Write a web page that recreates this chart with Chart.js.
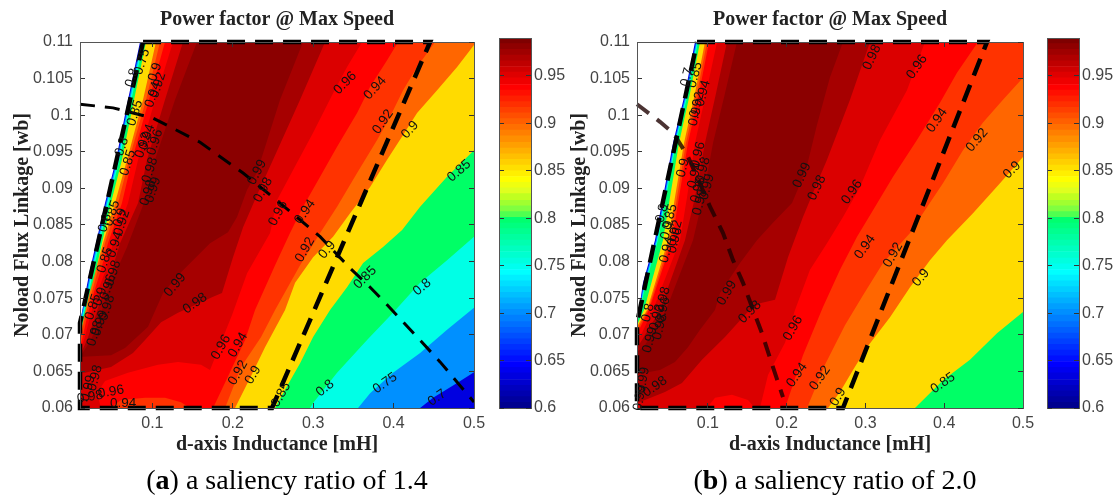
<!DOCTYPE html>
<html>
<head>
<meta charset="utf-8">
<title>Power factor @ Max Speed</title>
<script src="https://cdn.jsdelivr.net/npm/chart.js@4"></script>
<style>
body { margin: 0; background: #fff; width: 1115px; height: 495px; overflow: hidden; position: relative; }
canvas { position: absolute; top: 0; }
.caption { position: absolute; top: 464px; font: 28px "Liberation Serif", serif; color: #000; text-align: center; width: 400px; }
</style>
</head>
<body>
<canvas id="plotA" width="490" height="495" style="left:0"></canvas>
<canvas id="barA" width="80" height="495" style="left:490px"></canvas>
<canvas id="plotB" width="480" height="495" style="left:560px"></canvas>
<canvas id="barB" width="77" height="495" style="left:1038px"></canvas>
<div class="caption" style="left:87px">(<b>a</b>) a saliency ratio of 1.4</div>
<div class="caption" style="left:635px">(<b>b</b>) a saliency ratio of 2.0</div>
<script>
// tick labels
const xTicks = [0.1, 0.2, 0.3, 0.4, 0.5];
const yTicks = [0.06, 0.065, 0.07, 0.075, 0.08, 0.085, 0.09, 0.095, 0.1, 0.105, 0.11];
const barTicks = [0.6, 0.65, 0.7, 0.75, 0.8, 0.85, 0.9, 0.95];

// contour fill colours, from the lowest band to the highest
const bandColors = ['#0000e0', '#0090ff', '#00ffe6', '#00ff66', '#ffdb00', '#ff6600', '#ff3300', '#ff0000', '#db0000', '#a60000', '#8b0000'];

// colorbar steps
const barLevels = [0.600, 0.606, 0.612, 0.618, 0.624, 0.630, 0.637, 0.643, 0.649, 0.655, 0.661, 0.667, 0.673, 0.679, 0.685, 0.691, 0.698, 0.704, 0.710, 0.716, 0.722, 0.728, 0.734, 0.740, 0.746, 0.752, 0.758, 0.765, 0.771, 0.777, 0.783, 0.789, 0.795, 0.801, 0.807, 0.813, 0.819, 0.826, 0.832, 0.838, 0.844, 0.850, 0.856, 0.862, 0.868, 0.874, 0.880, 0.887, 0.893, 0.899, 0.905, 0.911, 0.917, 0.923, 0.929, 0.935, 0.941, 0.948, 0.954, 0.960, 0.966, 0.972, 0.978, 0.984, 0.990];
const barColors = ['#00008f', '#00009f', '#0000af', '#0000bf', '#0000cf', '#0000df', '#0000ef', '#0000ff', '#000fff', '#001fff', '#002fff', '#003fff', '#004fff', '#005fff', '#006fff', '#007fff', '#008fff', '#009fff', '#00afff', '#00bfff', '#00cfff', '#00dfff', '#00efff', '#00ffff', '#00ffef', '#00ffdf', '#00ffcf', '#00ffbf', '#00ffaf', '#00ff9f', '#00ff8f', '#00ff7f', '#00ff6f', '#50ff50', '#80ff40', '#a0ff30', '#c0ff20', '#dfff1f', '#efff0f', '#ffff00', '#ffef00', '#ffdf00', '#ffcf00', '#ffbf00', '#ffaf00', '#ff9f00', '#ff8f00', '#ff7f00', '#ff6f00', '#ff5f00', '#ff4f00', '#ff3f00', '#ff2f00', '#ff1f00', '#ff0f00', '#ff0000', '#ef0000', '#df0000', '#cf0000', '#bf0000', '#af0000', '#9f0000', '#8f0000', '#7f0000'];

// panel a: left edge of each level, top to bottom
const aLeft60 = [[.0846, .11], [.0697, .1021], [.0548, .0939], [.0411, .0880], [.0299, .0825], [.0224, .0789], [.0162, .0754], [.01, .0716]];
const aLeft70 = [[.0858, .11], [.0709, .1021], [.0560, .0939], [.0423, .0880], [.0311, .0825], [.0236, .0789], [.0174, .0754], [.01, .0718]];
const aLeft75 = [[.0871, .11], [.0722, .1021], [.0573, .0939], [.0436, .0880], [.0324, .0825], [.0249, .0789], [.0187, .0754], [.01, .0712]];
const aLeft80 = [[.0889, .11], [.0740, .1021], [.0591, .0939], [.0454, .0880], [.0342, .0825], [.0267, .0789], [.0205, .0754], [.01, .0708]];
const aLeft85 = [[.0921, .11], [.0772, .1021], [.0622, .0939], [.0485, .0880], [.0373, .0825], [.0299, .0789], [.0236, .0754], [.0168, .0724], [.01, .07]];
const aLeft90 = [[.1045, .11], [.0884, .1021], [.0685, .0939], [.0535, .0880], [.0386, .0825], [.0299, .0789], [.0212, .0754], [.0150, .0724], [.01, .07]];
const aLeft92 = [[.1095, .11], [.0921, .1021], [.0710, .0939], [.0573, .0880], [.0411, .0825], [.0324, .0789], [.0237, .0754], [.0162, .0724], [.01, .0693]];
const aLeft94 = [[.1157, .11], [.0958, .1021], [.0747, .0939], [.0622, .0880], [.0448, .0825], [.0361, .0789], [.0262, .0754], [.0187, .0724], [.0125, .0693], [.01, .0683]];
const aLeft96 = [[.1257, .11], [.1033, .1021], [.0822, .0939], [.0697, .0880], [.0511, .0825], [.0423, .0789], [.0299, .0754], [.0224, .0724], [.0150, .0693], [.01, .0679]];
const aLeft98 = [[.1381, .11], [.1157, .1021], [.0933, .0939], [.0822, .0880], [.0598, .0825], [.0498, .0789], [.0374, .0754], [.0287, .0724], [.0187, .0693], [.01, .0672]];
const aLeft99 = [[.1555, .11], [.1282, .1021], [.1033, .0939], [.0884, .0877], [.0685, .0820], [.0560, .0789], [.0436, .0757], [.0349, .0724], [.0237, .0693], [.0137, .0676], [.01, .0670]];

// panel a: right edge of each level, top to bottom
const aRight60 = [[.5, .11], [.5, .06], [.01, .06]];
const aRight70 = [[.5, .11], [.5, .0649], [.4790, .0634], [.4491, .0614], [.4330, .06], [.01, .06]];
const aRight75 = [[.5, .11], [.5, .0737], [.4665, .0707], [.4330, .0675], [.3993, .0648], [.3708, .0620], [.3558, .06], [.01, .06]];
const aRight80 = [[.5, .11], [.5, .0834], [.4665, .0802], [.4330, .0771], [.3993, .0730], [.3670, .0693], [.3297, .0648], [.2999, .0607], [.2961, .06], [.01, .06]];
const aRight85 = [[.5, .11], [.5, .0952], [.4665, .0916], [.4330, .0875], [.4106, .0843], [.3869, .0820], [.3621, .0798], [.3421, .0765], [.3210, .0734], [.2999, .0697], [.2837, .0661], [.2650, .0625], [.2526, .06], [.01, .06]];
const aRight90 = [[.5, .11], [.5, .1096], [.4790, .1066], [.4541, .1034], [.4292, .1003], [.4118, .0973], [.3919, .0939], [.3708, .0902], [.3459, .0866], [.3247, .0834], [.2999, .0806], [.2775, .0771], [.2650, .0734], [.2401, .0683], [.2215, .0641], [.2028, .06], [.01, .06]];
const aRight92 = [[.4516, .11], [.4292, .1066], [.4118, .1034], [.3956, .0998], [.3795, .0966], [.3546, .0921], [.3297, .0875], [.3086, .0839], [.2837, .0795], [.2526, .0734], [.2352, .0697], [.2103, .0656], [.1904, .06], [.01, .06]];
const aRight94 = [[.4056, .11], [.3919, .1075], [.3708, .1039], [.3546, .1003], [.3297, .0957], [.3086, .0916], [.2874, .0875], [.2712, .0839], [.2526, .0795], [.2277, .0734], [.2153, .0693], [.1978, .0652], [.1755, .06], [.1468, .06], [.1356, .0608], [.1157, .0614], [.0909, .0614], [.0610, .0611], [.0473, .06], [.01, .06]];
const aRight96 = [[.3608, .11], [.3421, .1066], [.3247, .1030], [.2999, .0976], [.2750, .0925], [.2551, .0884], [.2464, .0839], [.2178, .0784], [.1991, .0727], [.1866, .0693], [.1717, .0652], [.1605, .0659], [.1319, .0663], [.1070, .0659], [.0697, .0648], [.0411, .0637], [.0311, .0620], [.0361, .06], [.01, .06]];
const aRight98 = [[.3148, .11], [.2837, .1021], [.2501, .0939], [.2314, .0894], [.2128, .0847], [.2003, .0806], [.1866, .0757], [.1755, .0752], [.1319, .0730], [.1108, .0717], [.0909, .0693], [.0759, .0675], [.0486, .0656], [.0162, .0648], [.01, .0648]];
const aRight99 = [[.2874, .11], [.2588, .1021], [.2302, .0922], [.2178, .0898], [.2053, .0861], [.1941, .0840], [.1717, .0825], [.1506, .0802], [.1344, .0784], [.1133, .0757], [.0946, .0711], [.0660, .0682], [.0486, .0672], [.0137, .0670], [.01, .0670]];

// panel b: left edge of each level, top to bottom
const bLeft60 = [[.0836, .11], [.0709, .1030], [.0557, .0962], [.0430, .0888], [.0328, .0829], [.0176, .0771], [.01, .0716]];
const bLeft70 = [[.0849, .11], [.0722, .1030], [.0570, .0962], [.0443, .0888], [.0341, .0829], [.0189, .0771], [.01, .0718]];
const bLeft75 = [[.0861, .11], [.0734, .1030], [.0582, .0962], [.0455, .0888], [.0353, .0829], [.0201, .0771], [.01, .0716]];
const bLeft80 = [[.0874, .11], [.0747, .1030], [.0595, .0962], [.0468, .0888], [.0366, .0829], [.0214, .0771], [.01, .0715]];
const bLeft85 = [[.0900, .11], [.0773, .1030], [.0633, .0962], [.0519, .0888], [.0430, .0829], [.0189, .0734], [.01, .0713]];
const bLeft90 = [[.0963, .11], [.0836, .1030], [.0697, .0962], [.0582, .0888], [.0494, .0829], [.0227, .0734], [.01, .0711]];
const bLeft92 = [[.0989, .11], [.0862, .1030], [.0722, .0962], [.0608, .0888], [.0519, .0829], [.0240, .0734], [.01, .0707]];
const bLeft94 = [[.1014, .11], [.0887, .1030], [.0747, .0962], [.0633, .0888], [.0544, .0829], [.0252, .0734], [.0113, .0704], [.01, .0700]];
const bLeft96 = [[.1116, .11], [.0976, .1030], [.0836, .0962], [.0735, .0888], [.0646, .0829], [.0303, .0734], [.0138, .0697], [.01, .0690]];
const bLeft98 = [[.1242, .11], [.1103, .1030], [.0963, .0962], [.0836, .0888], [.0709, .0829], [.0392, .0734], [.0163, .0693], [.01, .0682]];
const bLeft99 = [[.1369, .11], [.1217, .1030], [.1065, .0962], [.0938, .0888], [.0811, .0829], [.0468, .0734], [.0202, .0686], [.01, .0676]];

// panel b: right edge of each level, top to bottom
const bRight60 = [[.5, .11], [.5, .06], [.01, .06]];
const bRight85 = [[.5, .11], [.5, .0731], [.4670, .0702], [.4327, .0666], [.3984, .0638], [.3629, .06], [.01, .06]];
const bRight90 = [[.5, .11], [.5, .0943], [.4708, .0907], [.4365, .0866], [.4035, .0829], [.3819, .0802], [.3566, .0765], [.3312, .0724], [.3020, .0683], [.2842, .0652], [.2677, .0622], [.2525, .06], [.01, .06]];
const bRight92 = [[.5, .11], [.5, .1051], [.4746, .1021], [.4492, .0990], [.4238, .0952], [.3984, .0907], [.3730, .0866], [.3566, .0839], [.3223, .0798], [.2969, .0754], [.2740, .0713], [.2486, .0659], [.2258, .06], [.01, .06]];
const bRight94 = [[.4429, .11], [.4162, .1058], [.3946, .1017], [.3654, .0966], [.3350, .0916], [.3096, .0870], [.2893, .0834], [.2677, .0789], [.2461, .0738], [.2207, .0672], [.1979, .06], [.01, .06]];
const bRight96 = [[.3756, .11], [.3527, .1034], [.3185, .0966], [.2931, .0902], [.2715, .0861], [.2512, .0825], [.2296, .0789], [.2106, .0734], [.1979, .0689], [.1763, .0645], [.1661, .06], [.1598, .06], [.1509, .0611], [.1306, .0618], [.1090, .0614], [.0989, .06], [.01, .06]];
const bRight98 = [[.3058, .11], [.2804, .1021], [.2512, .0939], [.2385, .0907], [.2207, .0861], [.2017, .0806], [.1852, .0748], [.1661, .0743], [.1496, .0730], [.1217, .0697], [.0925, .0666], [.0671, .0634], [.0455, .0622], [.0202, .0611], [.01, .0607]];
const bRight99 = [[.2715, .11], [.2550, .1052], [.2385, .0987], [.2245, .0925], [.2068, .0880], [.1826, .0853], [.1623, .0829], [.1408, .0798], [.1154, .0757], [.1090, .0734], [.0900, .0707], [.0747, .0683], [.0582, .0663], [.0392, .0652], [.01, .0646]];

// dashed limits
const aLimit = [[.0884, .11], [.4454, .11], [.2488, .06], [.01, .06], [.01, .0716], [.0884, .11]];
const bLimit = [[.0862, .11], [.4543, .11], [.2715, .06], [.01, .06], [.01, .0716], [.0862, .11]];
const aCurve = [[.01, .1015], [.0511, .1010], [.1008, .0996], [.1257, .0982], [.1593, .0963], [.2128, .0921], [.2588, .0880], [.3086, .0834], [.3459, .0791], [.3708, .0765], [.3919, .0741], [.4292, .0697], [.4578, .0663], [.5, .0608]];
const bCurve = [[.01, .1015], [.0392, .0991], [.0557, .0976], [.0735, .0946], [.0862, .0916], [.1027, .0875], [.1192, .0839], [.1319, .0802], [.1446, .0771], [.1560, .0738], [.1687, .0702], [.1826, .0656], [.1953, .0615]];

// contour labels: text, x, y
const aLabels = [['0.96', .3397, .1044], ['0.94', .3770, .1037], ['0.92', .3869, .0991], ['0.9', .4205, .0980], ['0.85', .4815, .0924], ['0.99', .2302, .0922], ['0.98', .2377, .0898], ['0.96', .2563, .0866], ['0.94', .2899, .0868], ['0.92', .2899, .0816], ['0.9', .3173, .0816], ['0.85', .3645, .0778], ['0.8', .4354, .0765], ['0.8', .3148, .0627], ['0.75', .3894, .0634], ['0.7', .4541, .0614], ['0.85', .2600, .0618], ['0.99', .1282, .0768], ['0.98', .1531, .0743], ['0.96', .1854, .0683], ['0.94', .2066, .0686], ['0.92', .2066, .0648], ['0.9', .2252, .0645], ['0.96', .0486, .0622], ['0.94', .0635, .0607], ['0.98', .0287, .0641], ['0.99', .0200, .0627], ['0.98', .0224, .0615], ['0.9', .1033, .1059], ['0.92', .1070, .1041], ['0.94', .1008, .1028], ['0.8', .0747, .1051], ['0.75', .0871, .1073], ['0.85', .0784, .1003], ['0.94', .0933, .0970], ['0.92', .0884, .0959], ['0.96', .1033, .0963], ['0.85', .0697, .0935], ['0.8', .0622, .0957], ['0.98', .0971, .0925], ['0.99', .1008, .0898], ['0.98', .0946, .0894], ['0.85', .0498, .0866], ['0.9', .0598, .0860], ['0.8', .0411, .0853], ['0.92', .0622, .0853], ['0.94', .0535, .0823], ['0.85', .0411, .0802], ['0.98', .0511, .0784], ['0.96', .0448, .0765], ['0.9', .0349, .0752], ['0.85', .0262, .0738], ['0.98', .0436, .0737], ['0.99', .0349, .0716], ['0.98', .0287, .0702]];
const aLabelAngles = [-45, -48, -55, -48, -40, -62, -62, -62, -55, -60, -50, -45, -40, -40, -35, -35, -60, -50, -35, -60, -60, -60, -60, -10, 0, -75, -75, -10, -72, -72, -72, -72, -72, -72, -72, -72, -72, -72, -72, -72, -72, -72, -72, -72, -72, -72, -72, -72, -72, -72, -72, -72, -72, -72, -72];
const bLabels = [['0.98', .3083, .1079], ['0.96', .3654, .1066], ['0.94', .3908, .0993], ['0.92', .4416, .0966], ['0.9', .4860, .0925], ['0.96', .2829, .0895], ['0.94', .2994, .0820], ['0.92', .3350, .0809], ['0.9', .3705, .0778], ['0.85', .3984, .0634], ['0.9', .2652, .0615], ['0.99', .2195, .0918], ['0.98', .2385, .0901], ['0.99', .1242, .0757], ['0.98', .1534, .0731], ['0.96', .2080, .0709], ['0.94', .2131, .0645], ['0.92', .2423, .0641], ['0.99', .0176, .0638], ['0.99', .0138, .0614], ['0.98', .0328, .0629], ['0.85', .0836, .1055], ['0.7', .0735, .1052], ['0.94', .0938, .1030], ['0.92', .0862, .1014], ['0.9', .0836, .0998], ['0.96', .0874, .0946], ['0.9', .0684, .0928], ['0.94', .0836, .0918], ['0.98', .0938, .0925], ['0.98', .0874, .0898], ['0.99', .0989, .0902], ['0.98', .0900, .0881], ['0.8', .0417, .0866], ['0.85', .0519, .0861], ['0.9', .0481, .0843], ['0.92', .0582, .0839], ['0.94', .0481, .0816], ['0.96', .0582, .0829], ['0.98', .0430, .0748], ['0.8', .0240, .0730], ['0.92', .0354, .0724], ['0.96', .0430, .0734], ['0.98', .0392, .0711], ['0.99', .0265, .0693]];
const bLabelAngles = [-65, -55, -55, -50, -45, -55, -55, -60, -50, -35, -60, -65, -65, -60, -45, -60, -55, -55, -80, -80, -35, -75, -75, -75, -75, -75, -75, -75, -75, -75, -75, -75, -75, -75, -75, -75, -75, -75, -75, -75, -75, -75, -75, -75, -75];

const aLefts = [aLeft60, aLeft70, aLeft75, aLeft80, aLeft85, aLeft90, aLeft92, aLeft94, aLeft96, aLeft98, aLeft99];
const aRights = [aRight60, aRight70, aRight75, aRight80, aRight85, aRight90, aRight92, aRight94, aRight96, aRight98, aRight99];
// panel b has no visible right edge below 0.85
const bLefts = [bLeft60, bLeft70, bLeft75, bLeft80, bLeft85, bLeft90, bLeft92, bLeft94, bLeft96, bLeft98, bLeft99];
const bRights = [bRight60, bRight60, bRight60, bRight60, bRight85, bRight90, bRight92, bRight94, bRight96, bRight98, bRight99];

const sansFont = 'Liberation Sans';
const serifFont = 'Liberation Serif';
const axisColor = '#444';

Chart.defaults.animation = false;
Chart.defaults.font.family = sansFont;

const contourLabels = {
    id: 'contourLabels',
    afterDatasetsDraw(chart, args, opts) {
        const ctx = chart.ctx;
        ctx.save();
        ctx.font = '13.5px "' + sansFont + '"';
        ctx.fillStyle = '#111';
        ctx.textAlign = 'center';
        ctx.textBaseline = 'middle';
        opts.items.forEach((item, i) => {
            ctx.save();
            ctx.translate(chart.scales.x.getPixelForValue(item[1]), chart.scales.y.getPixelForValue(item[2]));
            ctx.rotate(opts.angles[i] * Math.PI / 180);
            ctx.fillText(item[0], 0, 0);
            ctx.restore();
        });
        ctx.restore();
    }
};

function toPoints(pairs) {
    return pairs.map(p => ({ x: p[0], y: p[1] }));
}

function dashedLine(pairs, color, width, dash) {
    return {
        data: toPoints(pairs),
        showLine: true,
        fill: false,
        borderColor: color,
        borderWidth: width,
        borderDash: dash,
        pointRadius: 0,
        clip: 5
    };
}

function setTicks(values) {
    return scale => { scale.ticks = values.map(v => ({ value: v })); };
}

// the box size is fixed and tick labels may overhang it without moving the plot
function fixedWidth(size) {
    return scale => {
        scale.width = size;
        scale.paddingTop = 0;
        scale.paddingBottom = 0;
    };
}

function fixedHeight(size) {
    return scale => {
        scale.height = size;
        scale.paddingLeft = 0;
        scale.paddingRight = 0;
    };
}

function frameGrid() {
    return { drawOnChartArea: false, tickLength: -5, color: '#333', z: 1 };
}

function frameBorder() {
    return { color: '#555', width: 1, z: 1 };
}

function drawPanel(id, lefts, rights, limit, curve, curveColor, curveWidth, labels, angles, yBoxWidth, rightPad) {
    const datasets = [
        dashedLine(limit, '#000', 4.5, [18, 10]),
        dashedLine(curve, curveColor, curveWidth, [15, 10])
    ];
    // the highest band comes first so it is painted last
    for (let i = bandColors.length - 1; i >= 0; i--) {
        datasets.push({
            data: toPoints([...lefts[i].slice().reverse(), ...rights[i]]),
            showLine: true,
            fill: 'shape',
            backgroundColor: bandColors[i],
            borderWidth: 0,
            pointRadius: 0
        });
    }

    new Chart(document.getElementById(id), {
        type: 'scatter',
        data: { datasets: datasets },
        plugins: [contourLabels],
        options: {
            responsive: false,
            layout: { padding: { right: rightPad } },
            plugins: {
                legend: { display: false },
                tooltip: { enabled: false },
                contourLabels: { items: labels, angles: angles }
            },
            scales: {
                x: {
                    type: 'linear', min: 0.01, max: 0.5,
                    afterBuildTicks: setTicks(xTicks),
                    afterFit: fixedHeight(87),
                    grid: frameGrid(),
                    border: frameBorder(),
                    ticks: { color: axisColor, font: { size: 16 }, padding: 11, maxRotation: 0, callback: v => String(v) },
                    title: {
                        display: true,
                        text: 'd-axis Inductance [mH]',
                        color: '#222',
                        font: { family: serifFont, size: 20, weight: 'bold', lineHeight: 1.2 },
                        padding: { top: 0, bottom: 38 }
                    }
                },
                y: {
                    type: 'linear', min: 0.06, max: 0.11,
                    afterBuildTicks: setTicks(yTicks),
                    afterFit: fixedWidth(yBoxWidth),
                    grid: frameGrid(),
                    border: frameBorder(),
                    ticks: { color: axisColor, font: { size: 16 }, padding: 12, callback: v => String(v) },
                    title: {
                        display: true,
                        text: 'Noload Flux Linkage [wb]',
                        color: '#222',
                        font: { family: serifFont, size: 20, weight: 'bold', lineHeight: 1.2 },
                        padding: { top: yBoxWidth - 69, bottom: 0 }
                    }
                },
                // the chart title sits on the top axis so it centres over the plot
                xTop: {
                    type: 'linear', position: 'top', min: 0.01, max: 0.5,
                    afterBuildTicks: setTicks(xTicks),
                    afterFit: fixedHeight(42),
                    grid: frameGrid(),
                    border: frameBorder(),
                    ticks: { display: false },
                    title: {
                        display: true,
                        text: 'Power factor @ Max Speed',
                        color: '#222',
                        font: { family: serifFont, size: 20, weight: 'bold', lineHeight: 1.2 },
                        padding: { top: 8, bottom: 0 }
                    }
                },
                yRight: {
                    type: 'linear', position: 'right', min: 0.06, max: 0.11,
                    afterBuildTicks: setTicks(yTicks),
                    afterFit: fixedWidth(0),
                    grid: frameGrid(),
                    border: frameBorder(),
                    ticks: { display: false }
                }
            }
        }
    });
}

function drawColorbar(id, labelBoxWidth) {
    const datasets = barColors.map((color, i) => ({
        data: [[barLevels[i], barLevels[i + 1]]],
        backgroundColor: color,
        borderWidth: 0,
        barPercentage: 1,
        categoryPercentage: 1,
        grouped: false
    }));

    new Chart(document.getElementById(id), {
        type: 'bar',
        data: { labels: [''], datasets: datasets },
        options: {
            responsive: false,
            layout: { padding: { top: 38 } },
            plugins: { legend: { display: false }, tooltip: { enabled: false } },
            scales: {
                x: {
                    afterFit: fixedHeight(87),
                    grid: { display: false },
                    border: frameBorder(),
                    ticks: { display: false }
                },
                xTop: {
                    type: 'linear', position: 'top', min: 0, max: 1,
                    afterFit: fixedHeight(0),
                    grid: { display: false },
                    border: frameBorder(),
                    ticks: { display: false }
                },
                y: {
                    position: 'right', min: 0.6, max: 0.99,
                    afterBuildTicks: setTicks(barTicks),
                    afterFit: fixedWidth(labelBoxWidth),
                    grid: frameGrid(),
                    border: frameBorder(),
                    ticks: { color: axisColor, font: { size: 16 }, padding: 8, callback: v => String(v) }
                },
                yLeft: {
                    type: 'linear', position: 'left', min: 0.6, max: 0.99,
                    afterBuildTicks: setTicks(barTicks),
                    afterFit: fixedWidth(9),
                    grid: frameGrid(),
                    border: frameBorder(),
                    ticks: { display: false }
                }
            }
        }
    });
}

drawPanel('plotA', aLefts, aRights, aLimit, aCurve, '#000', 3, aLabels, aLabelAngles, 80, 16);
drawPanel('plotB', bLefts, bRights, bLimit, bCurve, 'rgba(30,0,0,0.8)', 4, bLabels, bLabelAngles, 77, 17);
drawColorbar('barA', 39);
drawColorbar('barB', 36);
</script>
</body>
</html>
